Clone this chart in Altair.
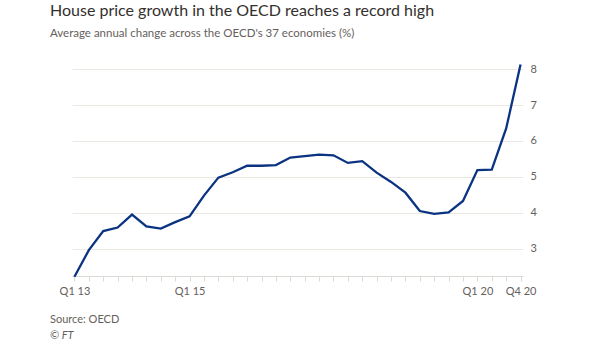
import altair as alt
import pandas as pd

quarters = [
    "Q1 13", "Q2 13", "Q3 13", "Q4 13",
    "Q1 14", "Q2 14", "Q3 14", "Q4 14",
    "Q1 15", "Q2 15", "Q3 15", "Q4 15",
    "Q1 16", "Q2 16", "Q3 16", "Q4 16",
    "Q1 17", "Q2 17", "Q3 17", "Q4 17",
    "Q1 18", "Q2 18", "Q3 18", "Q4 18",
    "Q1 19", "Q2 19", "Q3 19", "Q4 19",
    "Q1 20", "Q2 20", "Q3 20", "Q4 20",
]
growth = [
    2.22, 2.96, 3.49, 3.59, 3.95, 3.62, 3.56, 3.74,
    3.90, 4.48, 4.98, 5.13, 5.31, 5.31, 5.33, 5.54,
    5.58, 5.62, 5.60, 5.39, 5.44, 5.12, 4.86, 4.56,
    4.05, 3.97, 4.01, 4.33, 5.19, 5.20, 6.35, 8.13,
]
shown_labels = ["Q1 13", "Q1 15", "Q1 20", "Q4 20"]
y_ticks = [3, 4, 5, 6, 7, 8]

df = pd.DataFrame({"quarter": quarters, "value": growth})

FONT = "Lato"
TEXT = "#66605c"

label_expr = "indexof([" + ",".join("'%s'" % s for s in shown_labels) + "], datum.label) >= 0 ? datum.label : ''"

line = alt.Chart(df).mark_line(color="#0a3381", strokeWidth=2.3, clip=False).encode(
    x=alt.X(
        "quarter:O",
        sort=quarters,
        scale=alt.Scale(type="point", padding=0.17),
        axis=alt.Axis(
            title=None,
            labelExpr=label_expr,
            labelAngle=0,
            labelFont=FONT,
            labelFontSize=11,
            labelColor=TEXT,
            labelPadding=4,
            domainColor="#dcd8d3",
            tickColor="#dcd8d3",
            tickSize=5,
            grid=False,
        ),
    ),
    y=alt.Y(
        "value:Q",
        scale=alt.Scale(domain=[2.24, 8.2], nice=False, zero=False),
        axis=alt.Axis(
            orient="right",
            title=None,
            values=y_ticks,
            domain=False,
            ticks=False,
            labelFont=FONT,
            labelFontSize=11,
            labelColor=TEXT,
            labelPadding=7,
            gridColor="#ebe8e2",
            gridWidth=1,
        ),
    ),
)

src = alt.Chart(pd.DataFrame({"t": ["Source: OECD"]})).mark_text(
    align="left", baseline="middle", font=FONT, fontSize=11, color=TEXT
).encode(text="t:N", x=alt.value(-22), y=alt.value(258))

ft = alt.Chart(pd.DataFrame({"t": ["© FT"]})).mark_text(
    align="left", baseline="middle", font=FONT, fontSize=11, color=TEXT, fontStyle="italic"
).encode(text="t:N", x=alt.value(-22), y=alt.value(274))

chart = alt.layer(line, src, ft).properties(
    width=451,
    height=214,
    background="white",
    autosize=alt.AutoSizeParams(type="none"),
    padding={"left": 72, "top": 62, "right": 82, "bottom": 65},
    title=alt.TitleParams(
        text="House price growth in the OECD reaches a record high",
        subtitle="Average annual change across the OECD's 37 economies (%)",
        anchor="start",
        frame="group",
        dx=-22,
        offset=20,
        font=FONT,
        fontSize=16,
        fontWeight="normal",
        color="#33302e",
        subtitleFont=FONT,
        subtitleFontSize=11.5,
        subtitleColor=TEXT,
        subtitlePadding=9,
    ),
).configure_view(stroke=None)

chart.save("out.html", embed_options={"renderer": "svg", "actions": False})
